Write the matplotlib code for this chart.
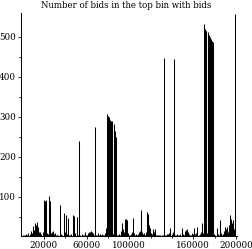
import matplotlib
matplotlib.use('Agg')

import matplotlib.pyplot as plt
from matplotlib.ticker import FixedLocator

# ============================================================
# DATA (bin position in thousands of bids, number of bids)
# ============================================================

bins_k = [
    0.5, 1.5, 2.5, 3.5, 4.5, 5.5, 6.5, 7.5, 8.5, 9.4, 10.5, 11.5, 12.3, 13.1,
    14.3, 15.2, 16.2, 17.5, 18.8, 19.6, 20.4, 21.0, 21.6, 22.8, 23.8, 24.9,
    25.9, 26.8, 27.5, 28.5, 29.5, 30.5, 31.5, 32.5, 33.5, 35.0, 36.0, 37.0,
    38.7, 39.6, 40.6, 41.5, 42.5, 43.5, 44.5, 45.5, 47.2, 48.1, 49.0, 50.9,
    52.0, 53.1, 54.0, 55.6, 56.5, 57.5, 58.4, 59.5, 60.5, 61.2, 62.0, 63.1,
    64.0, 65.0, 65.9, 66.8, 67.8, 68.8, 69.6, 70.6, 71.5, 72.5, 73.4, 74.3,
    75.2, 76.2, 77.2, 78.2, 79.3, 80.0, 80.6, 81.3, 82.0, 82.7, 83.4, 84.0,
    84.8, 85.9, 86.5, 87.2, 88.2, 89.3, 90.2, 91.2, 92.2, 93.1, 94.0, 95.0,
    95.9, 96.8, 97.8, 98.7, 99.6, 100.6, 101.5, 102.3, 103.1, 104.0, 105.3,
    106.2, 107.2, 108.1, 109.0, 109.8, 110.6, 111.3, 112.0, 112.8, 113.7,
    114.6, 115.5, 116.5, 117.2, 117.9, 118.6, 119.3, 120.2, 121.2, 122.2,
    123.1, 124.0, 125.0, 126.0, 126.8, 127.7, 128.7, 129.6, 130.6, 131.5,
    132.8, 133.5, 134.5, 135.5, 136.5, 137.5, 138.5, 139.7, 140.6, 141.4,
    142.1, 143.0, 144.0, 145.0, 146.0, 147.0, 148.0, 149.1, 150.0, 151.0,
    151.9, 152.6, 153.3, 154.0, 154.8, 155.6, 156.8, 157.8, 158.7, 159.6,
    160.6, 161.5, 162.3, 163.1, 164.0, 165.0, 166.0, 167.0, 168.4, 169.4,
    170.3, 171.0, 171.7, 172.4, 173.2, 174.0, 174.7, 175.4, 176.1, 176.9,
    177.6, 178.3, 179.0, 179.8, 180.8, 181.9, 182.8, 183.8, 185.0, 185.9,
    186.8, 187.8, 188.8, 189.7, 190.6, 191.5, 192.5, 193.4, 194.3, 195.1,
    195.9, 196.6, 197.2, 198.1, 199.0,
]

num_bids = [
    5, 6, 4, 8, 5, 9, 7, 14, 10, 28, 18, 35, 30, 38,
    25, 12, 13, 8, 12, 6, 92, 90, 93, 10, 8, 103,
    91, 9, 12, 14, 7, 9, 5, 6, 4, 80, 8, 5,
    61, 12, 55, 8, 48, 6, 5, 7, 54, 52, 9, 50,
    6, 240, 5, 7, 4, 6, 13, 6, 5, 9, 12, 13,
    14, 12, 9, 5, 276, 6, 4, 9, 5, 8, 6, 7,
    5, 4, 10, 22, 307, 303, 300, 296, 292, 290, 289, 285,
    8, 282, 265, 251, 6, 5, 8, 6, 15, 35, 20, 12,
    45, 44, 43, 10, 6, 5, 8, 12, 47, 9, 6,
    8, 5, 7, 12, 15, 67, 55, 12, 8, 10,
    6, 12, 63, 58, 45, 30, 22, 10, 8, 20,
    12, 20, 6, 4, 5, 4, 5, 3, 6, 4,
    447, 6, 5, 8, 7, 10, 22, 8, 5, 12,
    445, 5, 6, 8, 4, 6, 8, 23, 7, 5,
    10, 15, 18, 20, 12, 8, 6, 5, 10, 8,
    22, 8, 10, 26, 7, 6, 8, 12, 35, 10,
    532, 520, 516, 514, 10, 513, 505, 501, 497, 494,
    490, 488, 12, 8, 6, 22, 8, 5, 42, 10,
    6, 8, 15, 26, 20, 26, 12, 30, 55, 45,
    35, 25, 42, 20, 558,
]

x_major = [20000, 60000, 100000, 160000, 200000]
x_minor = [40000, 80000, 120000, 140000, 180000]
y_major = [100, 200, 300, 400, 500]
y_minor = [50, 150, 250, 350, 450]

title_text = 'Number of bids in the top bin with bids'

# ============================================================
# PLOT
# ============================================================

serif = ['DejaVu Serif']

fig = plt.figure(figsize=(2.52, 2.49), dpi=100, facecolor='white')
ax = fig.add_axes([0.0833, 0.053, 0.857, 0.895])

x_vals = [b * 1000 for b in bins_k]

ax.vlines(x_vals, 0, num_bids, color='black', linewidth=0.75)

ax.set_xlim(-1500, 201000)
ax.set_ylim(3, 560)

for side in ['top', 'right']:
    ax.spines[side].set_visible(False)

for side in ['left', 'bottom']:
    ax.spines[side].set_linewidth(0.7)

ax.xaxis.set_major_locator(FixedLocator(x_major))
ax.xaxis.set_minor_locator(FixedLocator(x_minor))
ax.yaxis.set_major_locator(FixedLocator(y_major))
ax.yaxis.set_minor_locator(FixedLocator(y_minor))

ax.set_xticklabels([str(v) for v in x_major], family=serif, fontsize=6.3)
ax.set_yticklabels([str(v) for v in y_major], family=serif, fontsize=6.3)

ax.tick_params(which='major', direction='out', length=2.5, width=0.6, pad=1)
ax.tick_params(which='minor', direction='out', length=1.5, width=0.6)

fig.text(0.5, 0.978, title_text, ha='center', va='center',
         family=serif, fontsize=6.2)

plt.savefig('out.png', dpi=100, facecolor='white')
plt.close()
